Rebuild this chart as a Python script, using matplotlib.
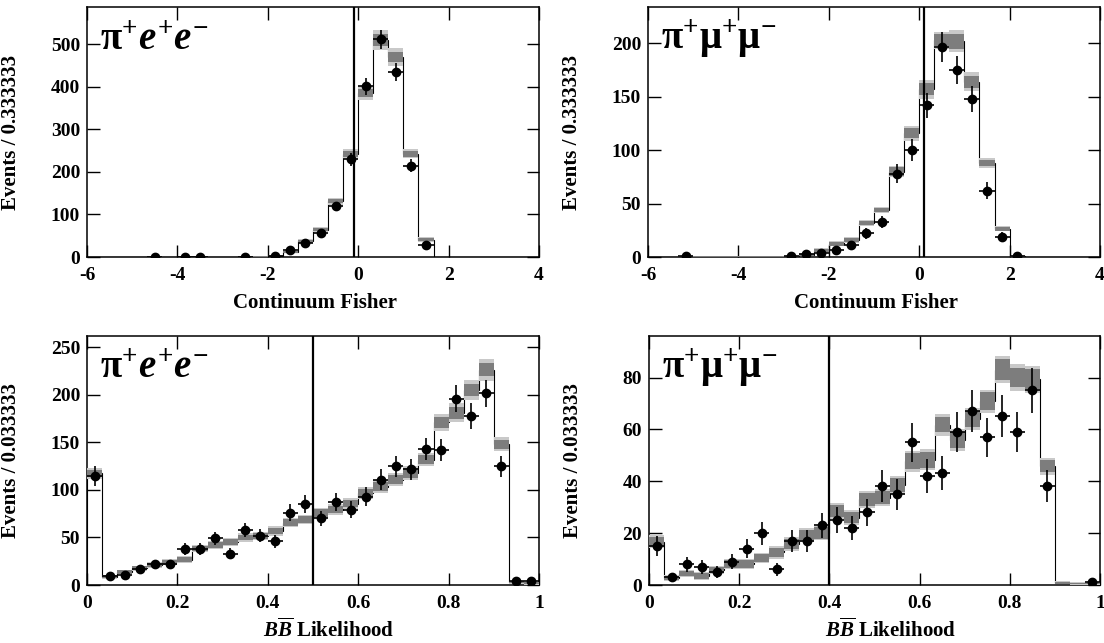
import numpy as np
import matplotlib
matplotlib.use("Agg")
import matplotlib.pyplot as plt
from matplotlib.ticker import FormatStrFormatter, FuncFormatter

plt.rcParams["font.family"] = "Liberation Serif"
plt.rcParams["font.weight"] = "bold"
plt.rcParams["mathtext.fontset"] = "custom"
plt.rcParams["mathtext.rm"] = "Liberation Serif:bold"
plt.rcParams["mathtext.it"] = "Liberation Serif:italic:bold"
plt.rcParams["mathtext.bf"] = "Liberation Serif:bold"

# binning: 30 bins for each variable
fisher_edges = np.linspace(-6, 4, 31)
bb_edges = np.linspace(0, 1, 31)

# pi+ e+ e-, continuum Fisher
ee_fisher_data = [0, 0, 0, 0, 1, 0, 1, 1, 0, 0, 1, 0, 2, 16, 33, 57, 119, 230, 402, 512,
                  436, 215, 29, 0, 0, 0, 0, 0, 0, 0]
ee_fisher_model = [0, 0, 0, 0.3, 0.3, 0.3, 0.3, 0.3, 0.3, 0.3, 0.5, 1, 3, 12, 37, 64, 131, 242, 386, 510,
                   471, 243, 41, 0, 0, 0, 0, 0, 0, 0]
ee_fisher_inner = [0, 0, 0, 0.4, 0.4, 0.4, 0.4, 0.4, 0.4, 0.4, 0.4, 0.5, 0.8, 2, 3, 4, 5, 7, 10, 14,
                   12, 7, 3, 0, 0, 0, 0, 0, 0, 0]
ee_fisher_outer = [0, 0, 0, 0.6, 0.6, 0.6, 0.6, 0.6, 0.6, 0.6, 0.6, 0.8, 1.2, 3, 4.5, 6, 8, 11, 17, 23,
                   21, 11, 5, 0, 0, 0, 0, 0, 0, 0]

# pi+ mu+ mu-, continuum Fisher
mm_fisher_data = [0, 0, 1, 0, 0, 0, 0, 0, 0, 1, 3, 4, 7, 11, 22, 33, 78, 100, 142, 197,
                  175, 148, 62, 19, 1, 0, 0, 0, 0, 0]
mm_fisher_model = [0, 0, 0.3, 0.3, 0.3, 0.3, 0.3, 0.3, 0.3, 0.5, 2, 6, 12.5, 16, 32, 44, 80, 116, 157, 203,
                   202, 164, 88, 26.5, 0.5, 0, 0, 0, 0, 0]
mm_fisher_inner = [0, 0, 0.4, 0.4, 0.4, 0.4, 0.4, 0.4, 0.4, 0.5, 1, 1.5, 1.8, 2, 2, 2, 4, 4.4, 5.5, 5.5,
                   7, 5.5, 3, 2, 0.4, 0, 0, 0, 0, 0]
mm_fisher_outer = [0, 0, 0.6, 0.6, 0.6, 0.6, 0.6, 0.6, 0.6, 0.8, 1.5, 2, 2.4, 2.6, 2.6, 2.6, 5, 7, 8.7, 8,
                   10.5, 9, 5, 2.2, 0.6, 0, 0, 0, 0, 0]

# pi+ e+ e-, BBbar likelihood
ee_bb_data = [115, 9, 11, 17, 22, 22, 38, 38, 49, 33, 58, 52, 46, 76, 85, 70, 87, 79, 93, 111,
              125, 122, 143, 142, 196, 178, 202, 125, 4, 4]
ee_bb_model = [117.5, 8.7, 13.6, 17.5, 21, 24, 26.6, 38.5, 42, 45, 50, 51.7, 57, 65.7, 69, 76, 79.4, 85.7, 97, 103.5,
               111, 118, 132, 171, 181, 205, 226.6, 148, 3, 2]
ee_bb_inner = [4, 1.5, 2, 2, 2, 2.5, 2.5, 3, 3, 3, 3, 3, 3.5, 3.5, 3.5, 4, 4, 4, 4.5, 4.5,
               5, 5, 5, 5.6, 6, 6.6, 7, 5, 1, 1]
ee_bb_outer = [6, 2, 2.5, 2.5, 3, 3, 3.5, 4, 4, 4, 4.5, 4.5, 5, 5, 5, 5.5, 5.5, 6, 6, 6.5,
               7, 7, 7.3, 8.7, 10, 10.8, 11.7, 7.5, 1.5, 1.5]

# pi+ mu+ mu-, BBbar likelihood
mm_bb_data = [15, 3, 8, 7, 5, 9, 14, 20, 6, 17, 17, 23, 25, 22, 28, 38, 35, 55, 42, 43,
              59, 67, 57, 65, 59, 75, 38, 0, 0, 1]
mm_bb_model = [16.7, 2.6, 4.5, 3.5, 5.8, 8, 8, 10.3, 12.6, 15.8, 19.2, 20.1, 28.5, 26, 33, 33.6, 38.5, 47.7, 48.3, 61.8,
               55.8, 64.1, 70.8, 83, 80, 79.4, 45.8, 0.9, 0.6, 0.6]
mm_bb_inner = [1.9, 0.8, 1, 1, 1.2, 1.5, 1.5, 1.5, 1.8, 2, 2, 2.2, 2.4, 2.2, 2.5, 2.5, 2.6, 3, 3, 3,
               3, 3, 3.5, 4, 3.7, 3.7, 2.4, 0.4, 0.3, 0.3]
mm_bb_outer = [2.6, 1.1, 1.4, 1.4, 1.6, 2, 2, 2, 2.4, 2.6, 2.8, 2.8, 3.2, 3, 3.3, 3.3, 3.5, 4, 4, 4.2,
               4.2, 4.2, 4.5, 5.3, 5.2, 5.2, 3.2, 0.6, 0.5, 0.5]

ee_label = r"$\mathrm{π}^{+}e^{+}e^{-}$"
mm_label = r"$\mathrm{π}^{+}\mathrm{μ}^{+}\mathrm{μ}^{-}$"

panels = [
    # edges, data, model, inner, outer, cut, ytop, yticks, xticks, label,
    # xlabel, xlabel x/y, ylabel, rect (px)
    (fisher_edges, ee_fisher_data, ee_fisher_model, ee_fisher_inner, ee_fisher_outer,
     -0.1, 588, [0, 100, 200, 300, 400, 500], [-6, -4, -2, 0, 2, 4], ee_label,
     "Continuum Fisher", (0.505, -0.145), "Events / 0.333333", [87, 7, 452, 250]),
    (fisher_edges, mm_fisher_data, mm_fisher_model, mm_fisher_inner, mm_fisher_outer,
     0.1, 234, [0, 50, 100, 150, 200], [-6, -4, -2, 0, 2, 4], mm_label,
     "Continuum Fisher", (0.505, -0.145), "Events / 0.333333", [648, 7, 452, 250]),
    (bb_edges, ee_bb_data, ee_bb_model, ee_bb_inner, ee_bb_outer,
     0.5, 262, [0, 50, 100, 150, 200, 250], [0, 0.2, 0.4, 0.6, 0.8, 1], ee_label,
     r"$B\overline{B}$ Likelihood", (0.535, -0.135), "Events / 0.033333", [87, 336, 452, 249]),
    (bb_edges, mm_bb_data, mm_bb_model, mm_bb_inner, mm_bb_outer,
     0.4, 96, [0, 20, 40, 60, 80], [0, 0.2, 0.4, 0.6, 0.8, 1], mm_label,
     r"$B\overline{B}$ Likelihood", (0.535, -0.135), "Events / 0.033333", [649, 336, 451, 249]),
]

W, H = 1104, 643
fig = plt.figure(figsize=(W / 100, H / 100), dpi=100)

for (edges, data, model, inner, outer, cut, ytop, yticks, xticks,
     label, xlabel, xlab_pos, ylabel, rect) in panels:
    left, top, width, height = rect
    ax = fig.add_axes([left / W, 1 - (top + height) / H, width / W, height / H])

    data = np.array(data, dtype=float)
    model = np.array(model, dtype=float)
    inner = np.array(inner, dtype=float)
    outer = np.array(outer, dtype=float)
    centers = 0.5 * (edges[:-1] + edges[1:])
    binw = edges[1] - edges[0]

    # fitted model: step line with uncertainty boxes
    ax.stairs(model, edges, color="black", linewidth=0.8, baseline=0, zorder=2)
    ax.bar(centers, 2 * outer, bottom=model - outer, width=binw,
           color="#c9c9c9", linewidth=0, zorder=3)
    ax.bar(centers, 2 * inner, bottom=model - inner, width=binw,
           color="#7d7d7d", linewidth=0, zorder=4)

    # data points with Poisson errors
    m = data > 0
    ax.errorbar(centers[m], data[m], xerr=binw / 2, yerr=np.sqrt(data[m]),
                fmt="o", color="black", markersize=6, elinewidth=1.2,
                capsize=0, zorder=6)

    ax.axvline(cut, color="black", linewidth=1.6, zorder=7)

    ax.set_xlim(edges[0], edges[-1])
    ax.set_ylim(0, ytop)
    ax.set_xticks(xticks)
    ax.set_yticks(yticks)
    ax.xaxis.set_major_formatter(FuncFormatter(lambda v, p: "%g" % v))
    ax.yaxis.set_major_formatter(FormatStrFormatter("%d"))
    ax.tick_params(direction="in", length=9, width=1.0, top=True, right=True,
                   labelsize=14)
    ax.tick_params(axis="x", pad=7)
    ax.tick_params(axis="y", pad=5)
    for lab in ax.get_xticklabels() + ax.get_yticklabels():
        lab.set_fontweight("bold")
    for s in ax.spines.values():
        s.set_linewidth(1.1)

    ax.set_xlabel(xlabel, fontsize=15, fontweight="bold")
    ax.set_ylabel(ylabel, fontsize=15, fontweight="bold")
    ax.xaxis.set_label_coords(*xlab_pos)
    ax.yaxis.set_label_coords(-0.146, 0.5)

    ax.text(0.029, 0.83, label, transform=ax.transAxes, fontsize=28,
            ha="left", va="baseline", zorder=8)

fig.savefig("out.png", dpi=100)
